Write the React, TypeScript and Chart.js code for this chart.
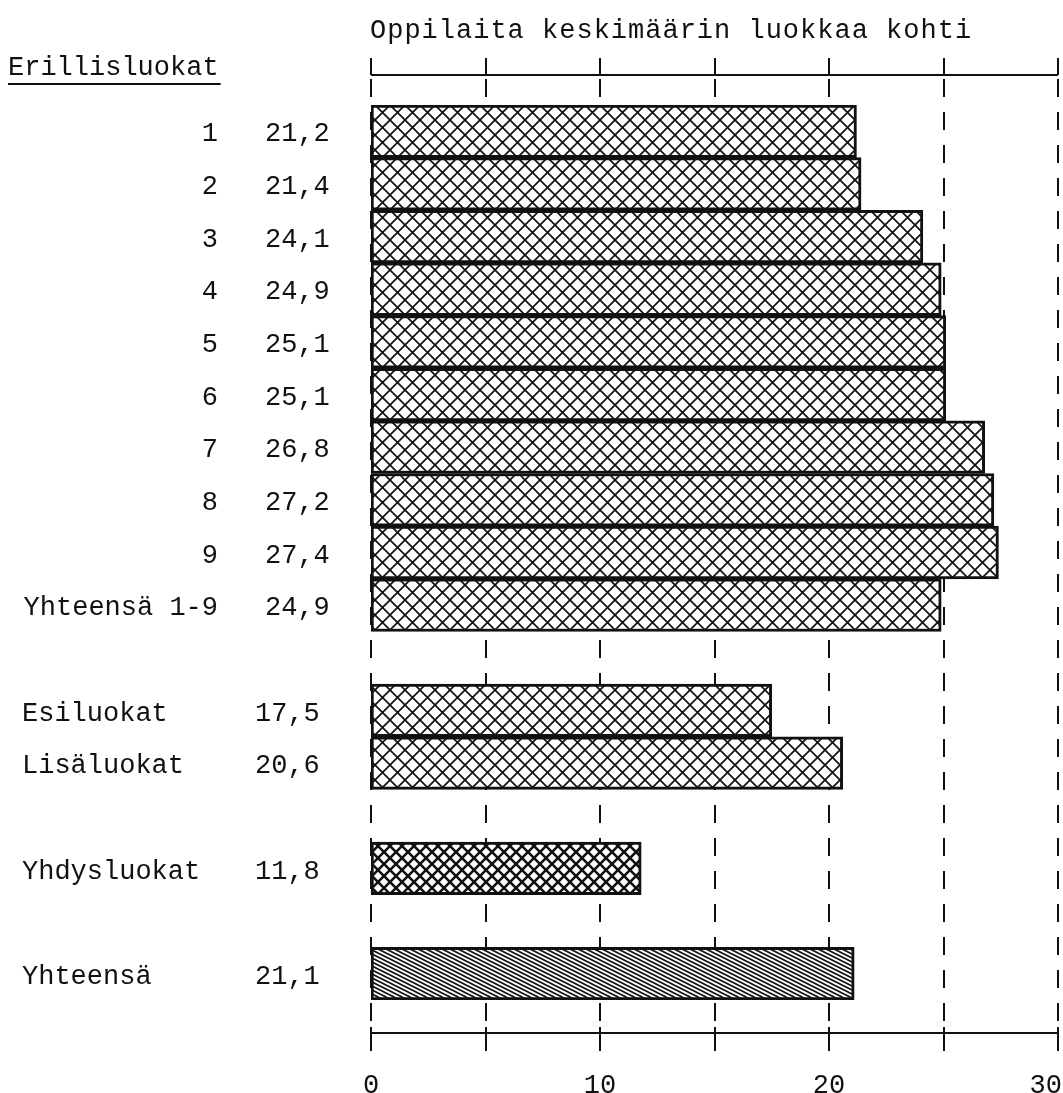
import React, { useEffect, useRef } from "react";
import { Chart, registerables } from "chart.js";

Chart.register(...registerables);

const title = "Oppilaita keskimäärin luokkaa kohti";
const groupHeading = "Erillisluokat";
const categories = [
  "1", "2", "3", "4", "5", "6", "7", "8", "9", "Yhteensä 1-9",
  "",
  "Esiluokat", "Lisäluokat",
  "",
  "Yhdysluokat",
  "",
  "Yhteensä",
];
const values: (number | null)[] = [
  21.2, 21.4, 24.1, 24.9, 25.1, 25.1, 26.8, 27.2, 27.4, 24.9,
  null,
  17.5, 20.6,
  null,
  11.8,
  null,
  21.1,
];
const xTicks = [0, 5, 10, 15, 20, 25, 30];
const xTickLabels = [0, 10, 20, 30];

const FONT = '27px "Liberation Mono", "DejaVu Sans Mono", monospace';
const INK = "#111";

function crossPattern(size: number, lw: number): CanvasPattern {
  const c = document.createElement("canvas");
  c.width = size;
  c.height = size;
  const g = c.getContext("2d")!;
  g.fillStyle = "#fff";
  g.fillRect(0, 0, size, size);
  g.strokeStyle = INK;
  g.lineWidth = lw;
  g.beginPath();
  g.moveTo(-2, -2);
  g.lineTo(size + 2, size + 2);
  g.moveTo(-2, size + 2);
  g.lineTo(size + 2, -2);
  g.stroke();
  return g.createPattern(c, "repeat")!;
}

function slantPattern(): CanvasPattern {
  const w = 8, h = 4;
  const c = document.createElement("canvas");
  c.width = w;
  c.height = h;
  const g = c.getContext("2d")!;
  g.fillStyle = "#fff";
  g.fillRect(0, 0, w, h);
  g.strokeStyle = INK;
  g.lineWidth = 1.6;
  g.beginPath();
  for (const off of [-h, 0, h]) {
    g.moveTo(-2, off - 1);
    g.lineTo(w + 2, off + h + 1);
  }
  g.stroke();
  return g.createPattern(c, "repeat")!;
}

const fmt = (v: number) => v.toFixed(1).replace(".", ",");

export default function App() {
  const ref = useRef<HTMLCanvasElement>(null);

  useEffect(() => {
    const canvas = ref.current!;
    const normal = crossPattern(15, 1.7);
    const bold = crossPattern(12, 2.6);
    const slant = slantPattern();
    const fills = categories.map((c) =>
      c === "Yhdysluokat" ? bold : c === "Yhteensä" ? slant : normal
    );

    const decor = {
      id: "decor",
      beforeDatasetsDraw(chart: any) {
        const { ctx, chartArea } = chart;
        const xs = chart.scales.x;
        const yTop = chartArea.top - 30;
        const yBot = chartArea.bottom + 33;
        ctx.save();
        ctx.strokeStyle = INK;
        ctx.lineWidth = 2;
        ctx.setLineDash([18, 15]);
        for (const v of xTicks) {
          const x = Math.round(xs.getPixelForValue(v));
          ctx.beginPath();
          ctx.moveTo(x, yTop + 4);
          ctx.lineTo(x, yBot);
          ctx.stroke();
        }
        ctx.restore();
      },
      afterDatasetsDraw(chart: any) {
        const { ctx, chartArea, width } = chart;
        const xs = chart.scales.x;
        const ys = chart.scales.y;
        const yTop = chartArea.top - 30;
        const yBot = chartArea.bottom + 33;
        const x0 = xs.getPixelForValue(0);
        const x30 = xs.getPixelForValue(30);
        ctx.save();
        ctx.strokeStyle = INK;
        ctx.fillStyle = INK;
        ctx.lineWidth = 2;
        // top axis
        ctx.beginPath();
        ctx.moveTo(x0, yTop);
        ctx.lineTo(x30, yTop);
        for (const v of xTicks) {
          const x = Math.round(xs.getPixelForValue(v));
          ctx.moveTo(x, yTop);
          ctx.lineTo(x, yTop - 17);
        }
        // bottom axis
        ctx.moveTo(x0, yBot);
        ctx.lineTo(x30, yBot);
        for (const v of xTicks) {
          const x = Math.round(xs.getPixelForValue(v));
          ctx.moveTo(x, yBot - 6);
          ctx.lineTo(x, yBot + 18);
        }
        ctx.stroke();

        ctx.font = FONT;
        ctx.textBaseline = "middle";
        ctx.textAlign = "center";
        for (const v of xTickLabels) {
          const s = String(v);
          const half = ctx.measureText(s).width / 2;
          const x = Math.min(xs.getPixelForValue(v), width - half - 1);
          ctx.fillText(s, x, yBot + 53);
        }

        // title
        ctx.textAlign = "left";
        (ctx as any).letterSpacing = "1px";
        ctx.fillText(title, 370, 31);
        (ctx as any).letterSpacing = "0px";

        // group heading with underline
        ctx.fillText(groupHeading, 8, 68);
        const hw = ctx.measureText(groupHeading).width;
        ctx.fillRect(8, 83, hw + 2, 2);

        // category labels and values
        categories.forEach((c, i) => {
          const v = values[i];
          if (!c || v == null) return;
          const y = ys.getPixelForValue(i) + 3;
          const inGroup = /\d$/.test(c);
          if (inGroup) {
            ctx.textAlign = "right";
            ctx.fillText(c, 218, y);
          } else {
            ctx.textAlign = "left";
            ctx.fillText(c, 22, y);
          }
          ctx.textAlign = "left";
          ctx.fillText(fmt(v), inGroup ? 265 : 255, y);
        });
        ctx.restore();
      },
    };

    const chart = new Chart(canvas, {
      type: "bar",
      data: {
        labels: categories,
        datasets: [
          {
            data: values as any,
            backgroundColor: fills as any,
            borderColor: INK,
            borderWidth: 3,
            borderSkipped: false,
            barPercentage: 1,
            categoryPercentage: 1,
          },
        ],
      },
      options: {
        indexAxis: "y",
        animation: false,
        responsive: false,
        events: [],
        layout: { padding: { left: 371, right: 5, top: 105, bottom: 93 } },
        plugins: { legend: { display: false }, tooltip: { enabled: false } },
        scales: {
          x: { min: 0, max: 30, display: false },
          y: { display: false, offset: true },
        },
      },
      plugins: [decor],
    });
    return () => chart.destroy();
  }, []);

  return (
    <div style={{ position: "fixed", left: 0, top: 0, width: 1063, height: 1093, background: "#fff" }}>
      <canvas ref={ref} width={1063} height={1093} style={{ display: "block" }} />
    </div>
  );
}
